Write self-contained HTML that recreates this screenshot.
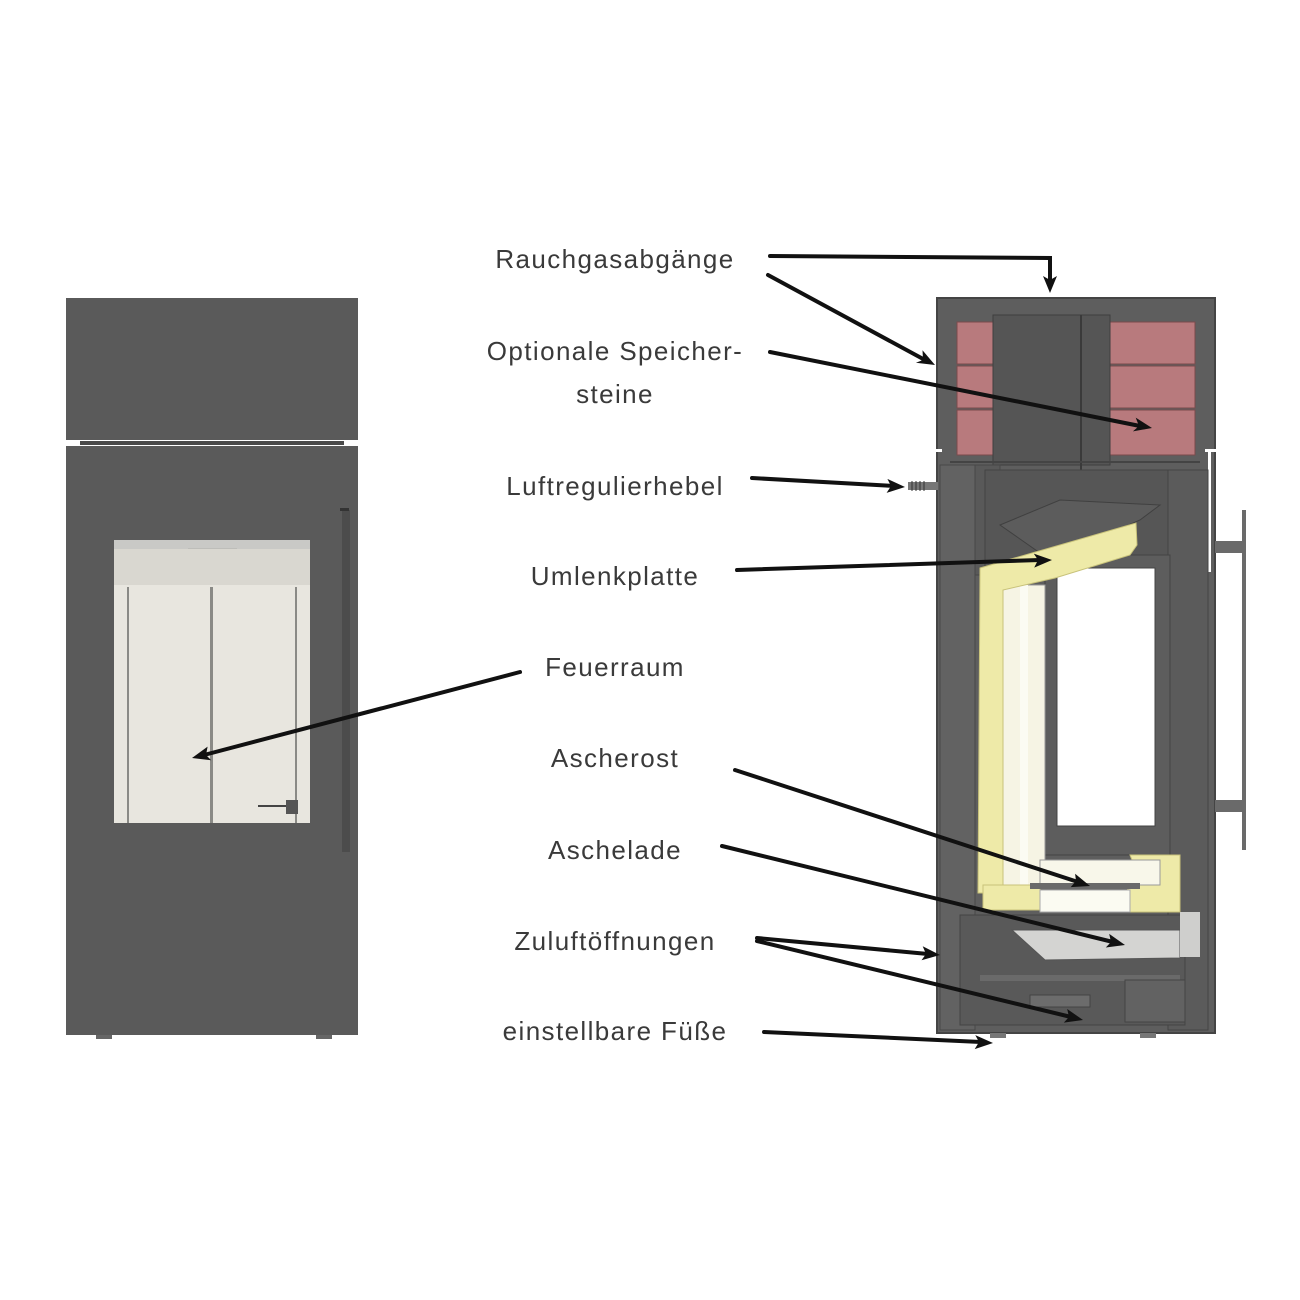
<!DOCTYPE html>
<html><head><meta charset="utf-8"><style>
html,body{margin:0;padding:0;background:#fff;}
svg{display:block}
text{font-family:"Liberation Sans",sans-serif;font-size:26px;fill:#3a3a3a;letter-spacing:1.4px}
</style></head><body>
<svg width="1300" height="1300" viewBox="0 0 1300 1300" xmlns="http://www.w3.org/2000/svg">
<!-- LEFT STOVE -->
<rect x="66" y="298" width="292" height="142" fill="#5a5a5a"/>
<rect x="66" y="446" width="292" height="589" fill="#5a5a5a"/>
<rect x="80" y="441" width="264" height="4" fill="#4a4a4a"/>
<rect x="96" y="1035" width="16" height="4" fill="#666"/>
<rect x="316" y="1035" width="16" height="4" fill="#666"/>
<rect x="342" y="510" width="8" height="342" fill="#4c4c4c"/>
<rect x="340" y="508" width="9" height="3" fill="#333"/>
<rect x="114" y="540" width="196" height="283" fill="#e8e6df"/>
<rect x="114" y="540" width="196" height="9" fill="#c9c9c6"/>
<rect x="188" y="548" width="49" height="5" fill="#bdbdb9"/>
<rect x="114" y="549" width="196" height="36" fill="#d9d7d0"/>
<rect x="127" y="587" width="2" height="236" fill="#8a8a86"/>
<rect x="210" y="587" width="3" height="236" fill="#8a8a86"/>
<rect x="295" y="587" width="2" height="236" fill="#8a8a86"/>
<rect x="258" y="805" width="38" height="2" fill="#444"/>
<rect x="286" y="800" width="12" height="14" fill="#555"/>

<!-- RIGHT STOVE -->
<rect x="937" y="298" width="278" height="735" fill="#5e5e5e"/>
<rect x="937" y="298" width="278" height="735" fill="none" stroke="#444" stroke-width="2"/>
<g fill="#b87a7d" stroke="#7a4a4c" stroke-width="1">
<rect x="957" y="322" width="36" height="42"/><rect x="957" y="366" width="36" height="42"/><rect x="957" y="410" width="36" height="45"/>
<rect x="1110" y="322" width="85" height="42"/><rect x="1110" y="366" width="85" height="42"/><rect x="1110" y="410" width="85" height="45"/>
</g>
<rect x="993" y="315" width="117" height="150" fill="#555" stroke="#3f3f3f"/>
<line x1="1081" y1="315" x2="1081" y2="500" stroke="#3a3a3a" stroke-width="2"/>
<rect x="930" y="449" width="12" height="3" fill="#fff"/>
<rect x="1205" y="449" width="12" height="3" fill="#fff"/>
<rect x="1208" y="452" width="3" height="120" fill="#fff"/>
<line x1="950" y1="462" x2="1200" y2="462" stroke="#444" stroke-width="2"/>
<rect x="940" y="465" width="35" height="565" fill="#626262" stroke="#484848"/>
<rect x="975" y="465" width="25" height="110" fill="#595959" stroke="#484848"/>
<polygon points="985,470 1185,470 1185,560 1050,580 985,580" fill="#565656" stroke="#444"/>
<polygon points="1000,525 1060,500 1160,505 1140,520 1050,560" fill="#5c5c5c" stroke="#404040"/>
<rect x="1168" y="470" width="40" height="560" fill="#5b5b5b" stroke="#444"/>
<rect x="1045" y="555" width="125" height="300" fill="#5d5d5d" stroke="#444"/>
<rect x="1057" y="568" width="98" height="258" fill="#fff" stroke="#444"/>
<rect x="1003" y="585" width="42" height="300" fill="#f6f4e4" stroke="#999"/>
<rect x="1020" y="585" width="8" height="300" fill="#fbfbf3"/>
<g fill="#eeeaa8" stroke="#c8c27a" stroke-width="1">
<polygon points="980,568 1136,523 1137,545 1130,555 1055,578 1003,590 1003,893 978,893"/>
<rect x="983" y="885" width="57" height="25"/>
<polygon points="1130,855 1180,855 1180,912 1127,912 1127,890 1140,880"/>
</g>
<rect x="1040" y="860" width="120" height="25" fill="#f8f7ea" stroke="#999"/>
<rect x="1040" y="890" width="90" height="22" fill="#fbfbf2" stroke="#aaa"/>
<rect x="1030" y="883" width="110" height="6" fill="#6a6a6a"/>
<rect x="960" y="915" width="225" height="110" fill="#595959" stroke="#444"/>
<polygon points="1012,930 1180,930 1180,958 1045,960" fill="#d4d4d2" stroke="#555"/>
<rect x="1180" y="912" width="20" height="45" fill="#cfcfcd"/>
<rect x="980" y="975" width="200" height="6" fill="#6a6a6a"/>
<rect x="1030" y="995" width="60" height="12" fill="#6c6c6c" stroke="#444"/>
<rect x="1125" y="980" width="60" height="42" fill="#626262" stroke="#444"/>
<rect x="990" y="1033" width="16" height="5" fill="#777"/>
<rect x="1140" y="1033" width="16" height="5" fill="#777"/>
<rect x="1242" y="510" width="4" height="340" fill="#6a6a6a"/>
<rect x="1215" y="541" width="28" height="12" fill="#6a6a6a"/>
<rect x="1215" y="800" width="28" height="12" fill="#6a6a6a"/>
<rect x="908" y="482" width="30" height="8" fill="#777"/>
<line x1="912" y1="481" x2="912" y2="491" stroke="#333"/><line x1="916" y1="481" x2="916" y2="491" stroke="#333"/><line x1="920" y1="481" x2="920" y2="491" stroke="#333"/><line x1="924" y1="481" x2="924" y2="491" stroke="#333"/>

<!-- LABELS -->
<text x="615" y="268" text-anchor="middle">Rauchgasabgänge</text>
<text x="615" y="360" text-anchor="middle">Optionale Speicher-</text>
<text x="615" y="403" text-anchor="middle">steine</text>
<text x="615" y="495" text-anchor="middle">Luftregulierhebel</text>
<text x="615" y="585" text-anchor="middle">Umlenkplatte</text>
<text x="615" y="676" text-anchor="middle">Feuerraum</text>
<text x="615" y="767" text-anchor="middle">Ascherost</text>
<text x="615" y="859" text-anchor="middle">Aschelade</text>
<text x="615" y="950" text-anchor="middle">Zuluftöffnungen</text>
<text x="615" y="1040" text-anchor="middle">einstellbare Füße</text>

<!-- ARROWS -->
<g stroke="#111" stroke-width="4" fill="none" stroke-linecap="round">
<polyline points="770,256 1050,258 1050,282"/>
<line x1="768" y1="275" x2="925" y2="360"/>
<line x1="770" y1="352" x2="1140" y2="426"/>
<line x1="752" y1="478" x2="895" y2="486"/>
<line x1="737" y1="570" x2="1040" y2="560"/>
<line x1="520" y1="672" x2="204" y2="755"/>
<line x1="735" y1="770" x2="1078" y2="882"/>
<line x1="722" y1="846" x2="1113" y2="942"/>
<line x1="757" y1="938" x2="928" y2="954"/>
<line x1="757" y1="941" x2="1071" y2="1017"/>
<line x1="764" y1="1032" x2="981" y2="1042"/>
</g>
<g fill="#111">
<polygon points="1050,293 1043,276 1050,280 1057,276"/>
<polygon points="935,365 915.9,362.7 923,360 922.5,350.3"/>
<polygon points="1152,428 1132.9,431.4 1139,426 1135.7,417.6"/>
<polygon points="905,487 886.6,492.9 891,486 887.4,478.9"/>
<polygon points="1052,560 1034.2,567.6 1038,560 1033.8,553.6"/>
<polygon points="192,758 207.6,746.6 206,755 211.2,760.2"/>
<polygon points="1090,886 1070.7,887.1 1076,881 1075.1,873.7"/>
<polygon points="1125,945 1105.8,947.5 1111,942 1109.2,933.9"/>
<polygon points="940,955 921.5,960.3 926,954 922.7,946.3"/>
<polygon points="1083,1020 1063.8,1022.6 1069,1017 1067.2,1009"/>
<polygon points="993,1043 974.7,1049.1 979,1042 975.3,1035.1"/>
</g>
</svg>
</body></html>
